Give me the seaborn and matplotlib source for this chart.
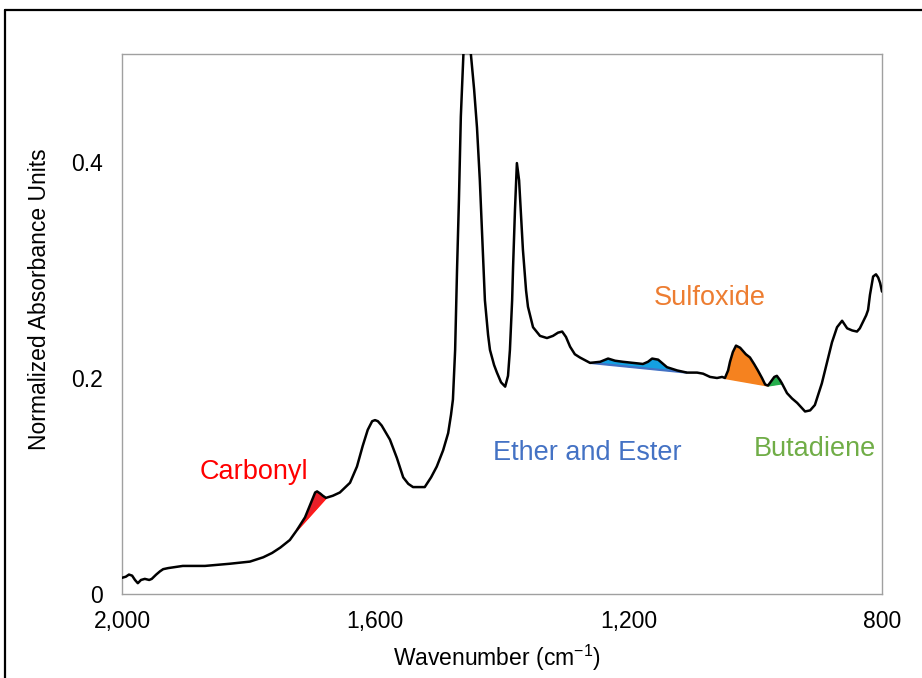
import numpy as np
import matplotlib
matplotlib.use("Agg")
import matplotlib.pyplot as plt
from matplotlib.lines import Line2D
import seaborn as sns

# FTIR spectrum (wavenumber in cm-1, normalized absorbance)
wavenumber = [
    2000, 1994, 1989, 1984, 1979.5, 1975, 1970, 1964, 1957, 1953, 1946, 1940, 1935, 1927,
    1916, 1904, 1885, 1869, 1850, 1830, 1814, 1798, 1777, 1763, 1750, 1735, 1724, 1711,
    1702, 1695, 1692, 1687, 1683, 1678, 1667, 1656, 1640, 1629, 1620, 1612, 1605, 1600.5,
    1596, 1590, 1577, 1566, 1556, 1548, 1540.5, 1529.5, 1522, 1512, 1503, 1493, 1485,
    1480.5, 1477.5, 1474, 1471, 1468, 1465, 1460, 1457, 1452, 1449, 1444, 1439.5, 1435,
    1431.5, 1427, 1422, 1419, 1412.5, 1408, 1401.5, 1395, 1390.5, 1387.5, 1384, 1382.5,
    1379.5, 1376.5, 1373, 1370, 1367, 1362, 1359, 1351, 1340, 1329, 1319.5, 1311.5, 1305,
    1299, 1292.5, 1285, 1277, 1261, 1245, 1232.5, 1221.5, 1209, 1193, 1177.5, 1169.5, 1163,
    1153.5, 1147.5, 1139.5, 1123.5, 1108, 1092, 1082.5, 1071.5, 1060.5, 1052.5, 1048, 1043,
    1040, 1035.5, 1030.5, 1024, 1021, 1015, 1008.5, 1002, 996, 989.5, 984.5, 980, 975, 970,
    966, 961, 958, 950, 942, 934, 921.5, 913.5, 906, 901, 895, 890, 885, 879, 871, 863, 855,
    847, 839.5, 835, 830, 825, 822, 819, 814, 809.5, 806, 803, 800,
]
absorbance = [
    0.015, 0.016, 0.018, 0.017, 0.013, 0.010, 0.013, 0.014, 0.013, 0.014, 0.018, 0.021, 0.023, 0.024,
    0.025, 0.026, 0.026, 0.026, 0.027, 0.028, 0.029, 0.030, 0.034, 0.038, 0.043, 0.050, 0.059, 0.071,
    0.084, 0.094, 0.095, 0.093, 0.091, 0.089, 0.091, 0.094, 0.103, 0.118, 0.137, 0.152, 0.160, 0.161,
    0.160, 0.156, 0.143, 0.126, 0.108, 0.102, 0.099, 0.099, 0.099, 0.108, 0.118, 0.133, 0.149,
    0.166, 0.180, 0.226, 0.300, 0.365, 0.442, 0.513, 0.531, 0.513, 0.499, 0.467, 0.432, 0.383,
    0.334, 0.272, 0.240, 0.226, 0.212, 0.205, 0.196, 0.192, 0.202, 0.226, 0.272, 0.303,
    0.356, 0.399, 0.383, 0.351, 0.319, 0.281, 0.266, 0.247, 0.239, 0.237, 0.239, 0.242, 0.243,
    0.238, 0.229, 0.222, 0.219, 0.214, 0.215, 0.218, 0.216, 0.215, 0.214, 0.213, 0.215, 0.218,
    0.217, 0.214, 0.210, 0.207, 0.205, 0.205, 0.204, 0.201, 0.200, 0.201, 0.200, 0.207,
    0.215, 0.224, 0.230, 0.228, 0.226, 0.222, 0.219, 0.213, 0.207, 0.200, 0.194, 0.193, 0.197, 0.201,
    0.202, 0.198, 0.195, 0.186, 0.181, 0.177, 0.169, 0.170, 0.175, 0.184, 0.195, 0.207, 0.219, 0.233, 0.247, 0.253, 0.246,
    0.244, 0.243, 0.246, 0.252, 0.258, 0.263, 0.277, 0.294, 0.296, 0.293, 0.288, 0.280,
]

# Functional-group bands integrated against a linear baseline
band_names = ["Carbonyl", "Ether and Ester", "Sulfoxide", "Butadiene"]
band_start = [1724, 1261, 1048, 980]
band_end = [1678, 1108, 980, 958]
fill_colors = ["#E8202A", "#14A0E2", "#F5821F", "#26AE4C"]
edge_colors = ["#FF1A1A", "#4472C4", "#F5821F", "#26AE4C"]
label_colors = ["#FF0000", "#4472C4", "#ED7D31", "#70AD47"]

x_ticks = [2000, 1600, 1200, 800]
x_tick_labels = ["2,000", "1,600", "1,200", "800"]
y_ticks = [0, 0.2, 0.4]
y_tick_labels = ["0", "0.2", "0.4"]

sns.set_theme(style="white")
plt.rcParams["font.family"] = ["Liberation Sans", "DejaVu Sans"]
plt.rcParams["mathtext.fontset"] = "custom"
plt.rcParams["mathtext.rm"] = "Liberation Sans"
plt.rcParams["mathtext.it"] = "Liberation Sans:italic"
plt.rcParams["mathtext.bf"] = "Liberation Sans:bold"

W, H = 922, 678
fig = plt.figure(figsize=(W / 100, H / 100), dpi=100)
ax = fig.add_axes([122 / W, 1 - 594 / H, 760 / W, 540 / H])

wn = np.asarray(wavenumber, dtype=float)
ab = np.asarray(absorbance, dtype=float)
order = np.argsort(wn)
wn_asc, ab_asc = wn[order], ab[order]

# shaded band areas above the straight baseline
for start, end, fc, ec in zip(band_start, band_end, fill_colors, edge_colors):
    grid = np.linspace(end, start, 300)
    curve = np.interp(grid, wn_asc, ab_asc)
    y0, y1 = np.interp([end, start], wn_asc, ab_asc)
    base = y0 + (y1 - y0) * (grid - end) / (start - end)
    ax.fill_between(grid, base, curve, where=curve >= base, color=fc,
                    linewidth=0, zorder=2, interpolate=True)
    ax.plot(grid, base, color=ec, lw=1.6, zorder=2.5, solid_capstyle="butt")

sns.lineplot(x=wn, y=ab, sort=False, color="black", linewidth=1.8,
             ax=ax, zorder=3)

ax.set_xlim(2000, 800)
ax.set_ylim(0, 0.5)
ax.set_xticks(x_ticks)
ax.set_xticklabels(x_tick_labels)
ax.set_yticks(y_ticks)
ax.set_yticklabels(y_tick_labels)
ax.tick_params(axis="both", direction="out", length=4.5, width=0.9,
               color="#A0A0A0", labelsize=16.5, labelcolor="black")
ax.tick_params(axis="x", pad=7)
ax.tick_params(axis="y", pad=9)
for sp in ax.spines.values():
    sp.set_color("#A0A0A0")
    sp.set_linewidth(1.0)

ax.set_xlabel(r"Wavenumber (cm$^{-1}$)", fontsize=16.5, color="black")
ax.set_ylabel("Normalized Absorbance Units", fontsize=16.5, color="black")
ax.xaxis.set_label_coords(0.493, -0.09)
ax.yaxis.set_label_coords(-0.094, 0.546)

# band annotations
label_pos = {"Carbonyl": (1792, 0.113), "Ether and Ester": (1266, 0.131),
             "Sulfoxide": (1072, 0.274), "Butadiene": (906, 0.134)}
for name, col in zip(band_names, label_colors):
    x, y = label_pos[name]
    ax.text(x, y, name, color=col, fontsize=19.5, ha="center", va="center", zorder=4)

# outer frame
fig.add_artist(Line2D([5 / W, 5 / W], [0, 1 - 10 / H], transform=fig.transFigure,
                      color="black", lw=1.6))
fig.add_artist(Line2D([5 / W, 1], [1 - 10 / H, 1 - 10 / H], transform=fig.transFigure,
                      color="black", lw=1.6))

fig.savefig("out.png", dpi=100)
